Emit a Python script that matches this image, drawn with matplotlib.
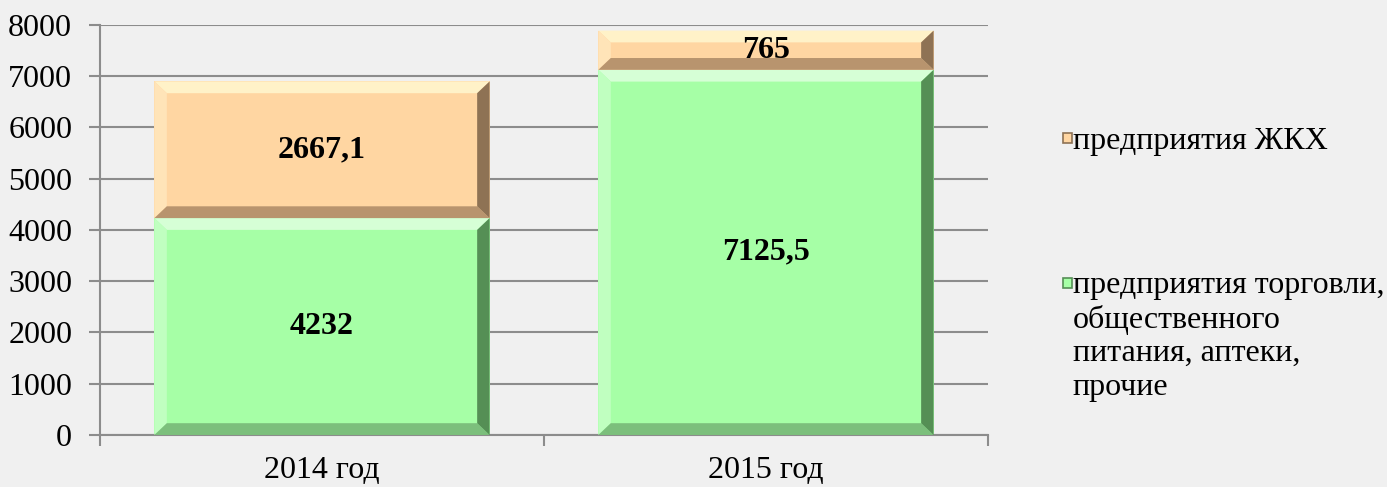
import numpy as np
import matplotlib

matplotlib.use("Agg")

import matplotlib.pyplot as plt
from matplotlib.patches import Polygon, Rectangle

categories = ["2014 год", "2015 год"]
trade = [4232, 7125.5]
housing = [2667.1, 765]
trade_labels = ["4232", "7125,5"]
housing_labels = ["2667,1", "765"]
series_names = ["предприятия торговли,\nобщественного\nпитания, аптеки,\nпрочие",
                "предприятия ЖКХ"]
yticks = [0, 1000, 2000, 3000, 4000, 5000, 6000, 7000, 8000]

BG = "#f0f0f0"
GRID = "#8c8c8c"
FONT = ["Liberation Serif", "DejaVu Serif"]

# face, top, left, bottom, right
GREEN = ("#a6ffa6", "#d6ffd6", "#c0ffc0", "#7cbf7c", "#558f55")
ORANGE = ("#ffd6a2", "#fff2c8", "#ffe4b8", "#b8946e", "#8e7254")

plt.rcParams["font.family"] = FONT


def bevel(ax, patch, colors, bx=0.028, by=230):
    x0, y0 = patch.get_x(), patch.get_y()
    x1, y1 = x0 + patch.get_width(), y0 + patch.get_height()
    face, top, left, bottom, right = colors
    bv = min(by, (y1 - y0) / 2.5)
    ix0, ix1, iy0, iy1 = x0 + bx, x1 - bx, y0 + bv, y1 - bv
    quads = [
        ([(x0, y1), (x1, y1), (ix1, iy1), (ix0, iy1)], top),
        ([(x0, y0), (x0, y1), (ix0, iy1), (ix0, iy0)], left),
        ([(x0, y0), (x1, y0), (ix1, iy0), (ix0, iy0)], bottom),
        ([(x1, y0), (x1, y1), (ix1, iy1), (ix1, iy0)], right),
    ]
    for pts, c in quads:
        ax.add_patch(Polygon(pts, closed=True, facecolor=c, edgecolor="none", zorder=3))


fig = plt.figure(figsize=(13.87, 4.87), dpi=100, facecolor=BG)
ax = fig.add_axes([0.0721, 0.1068, 0.6402, 0.8419], facecolor=BG)

x = np.arange(len(categories))
width = 0.755
b1 = ax.bar(x, trade, width, color=GREEN[0], zorder=2)
b2 = ax.bar(x, housing, width, bottom=trade, color=ORANGE[0], zorder=2)
for p in b1:
    bevel(ax, p, GREEN)
for p in b2:
    bevel(ax, p, ORANGE)

for i in range(len(categories)):
    ax.text(x[i], trade[i] / 2, trade_labels[i], ha="center", va="center",
            fontsize=23, fontweight="bold", zorder=5)
    ax.text(x[i], trade[i] + housing[i] / 2, housing_labels[i], ha="center",
            va="center", fontsize=23, fontweight="bold", zorder=5)

ax.set_xlim(-0.5, len(categories) - 0.5)
ax.set_ylim(0, 8000)
ax.set_yticks(yticks)
ax.set_yticklabels([str(v) for v in yticks], fontsize=23)
ax.yaxis.grid(True, color=GRID, linewidth=1.5, zorder=0)
ax.set_axisbelow(True)

ax.set_xticks(x)
ax.set_xticklabels(categories, fontsize=23)
ax.set_xticks(np.arange(-0.5, len(categories)), minor=True)
ax.tick_params(axis="x", which="major", length=0, pad=15)
ax.tick_params(axis="x", which="minor", length=8, width=1.5, color=GRID, direction="out")
ax.tick_params(axis="y", length=8, width=1.5, color=GRID, direction="out", pad=12)

for s in ("top", "right"):
    ax.spines[s].set_visible(False)
for s in ("left", "bottom"):
    ax.spines[s].set_color(GRID)
    ax.spines[s].set_linewidth(1.5)

# legend, drawn by hand so the square sits at the first text line
entries = [(series_names[1], ORANGE, 0.716), (series_names[0], GREEN, 0.419)]
for label, colors, yy in entries:
    fig.patches.append(Rectangle((0.7665, yy - 0.010), 0.0065, 0.020,
                                 transform=fig.transFigure, facecolor=colors[0],
                                 edgecolor=colors[4], linewidth=1.2))
    fig.text(0.7735, yy + 0.024, label, fontsize=23, va="top", ha="left",
             linespacing=1.2)

fig.savefig("out.png", dpi=100, facecolor=BG)
